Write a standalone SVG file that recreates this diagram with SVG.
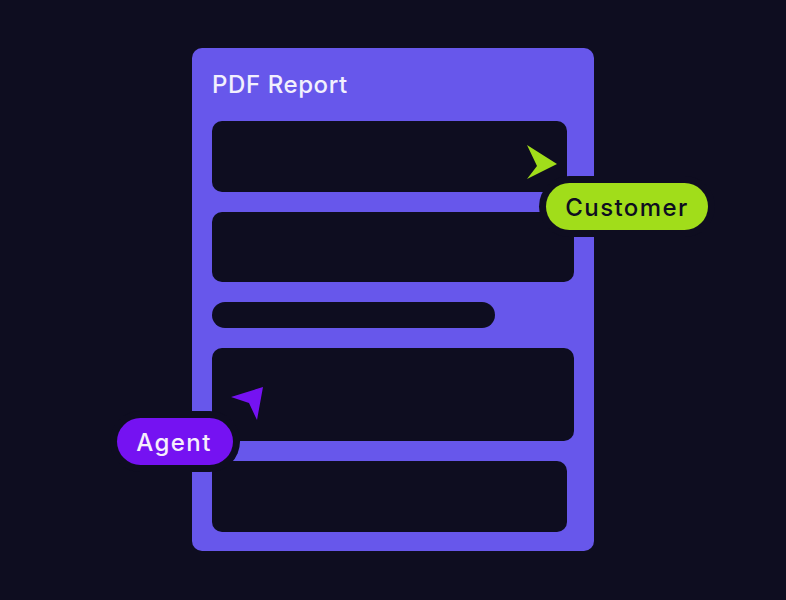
<svg xmlns="http://www.w3.org/2000/svg" width="786" height="600" viewBox="0 0 786 600">
  <style>
    .bar { fill: #0e0d20; }
    .lbl { font-family: Inter, "Open Sans", sans-serif; font-size: 24px; font-weight: 500; }
    .pill { letter-spacing: 1.4px; }
  </style>
  <rect x="0" y="0" width="786" height="600" fill="#0e0d20"/>
  <g id="report">
    <rect x="192" y="48" width="402" height="503" rx="10" fill="#6757eb"/>
    <text x="212" y="93" class="lbl" fill="#f2f0fd" letter-spacing="0.6">PDF Report</text>
    <rect class="bar" x="212" y="121" width="355" height="71" rx="10"/>
    <rect class="bar" x="212" y="212" width="362" height="70" rx="10"/>
    <rect class="bar" x="212" y="302" width="283" height="26" rx="13"/>
    <rect class="bar" x="212" y="348" width="362" height="93" rx="10"/>
    <rect class="bar" x="212" y="461" width="355" height="71" rx="10"/>
  </g>
  <g id="customer">
    <polygon points="527,145 557,164 527,179 537,166" fill="#a1dd1a"/>
    <rect x="539" y="176" width="176" height="61" rx="30.5" fill="#0e0d20"/>
    <rect x="546" y="183" width="162" height="47" rx="23.5" fill="#a1dd1a"/>
    <text x="627" y="216" class="lbl pill" fill="#0e0d20" text-anchor="middle">Customer</text>
  </g>
  <g id="agent">
    <polygon points="231,397 263,387 257,420 249,403" fill="#7512f2"/>
    <rect x="110" y="411" width="130" height="61" rx="30.5" fill="#0e0d20"/>
    <rect x="117" y="418" width="116" height="47" rx="23.5" fill="#7512f2"/>
    <text x="174" y="451" class="lbl pill" fill="#f6eefc" text-anchor="middle">Agent</text>
  </g>
  <g id="connectors"></g>
</svg>
